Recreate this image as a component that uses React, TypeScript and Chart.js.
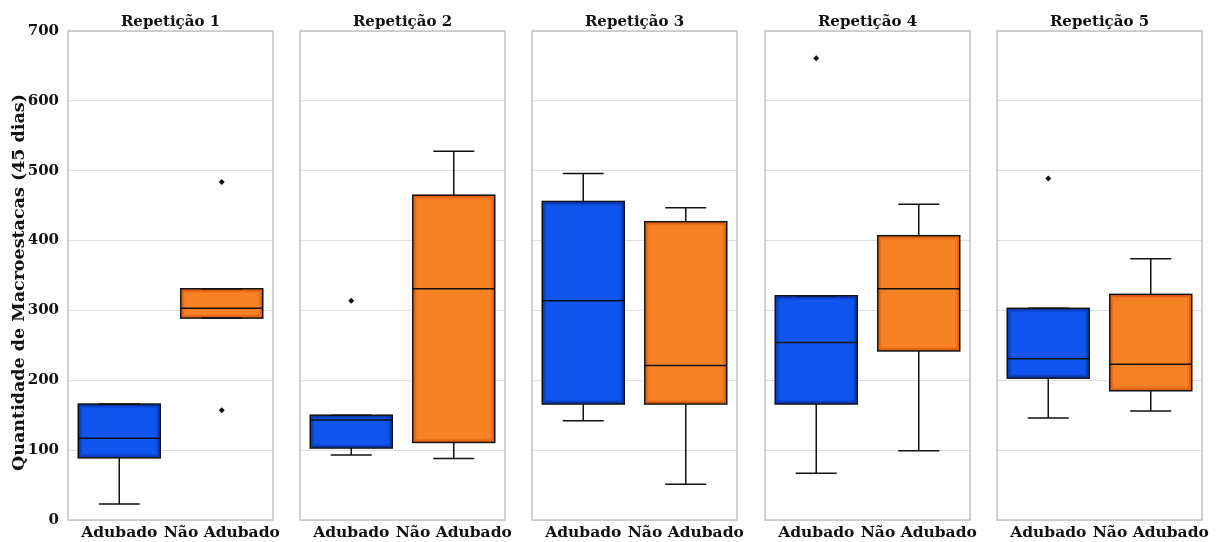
import React, { useEffect, useRef } from "react";
import { Chart, registerables } from "chart.js";

Chart.register(...registerables);

const repetitions = ["Repetição 1", "Repetição 2", "Repetição 3", "Repetição 4", "Repetição 5"];
const categories = ["Adubado", "Não Adubado"];
const q1Values = [[89, 289], [103, 111], [166, 166], [166, 242], [203, 185]];
const q3Values = [[166, 331], [150, 465], [456, 427], [321, 407], [303, 323]];
const medianValues = [[117, 303], [143, 331], [314, 221], [254, 331], [231, 223]];
const whiskerLowValues = [[23, 289], [93, 88], [142, 51], [67, 99], [146, 156]];
const whiskerHighValues = [[166, 331], [150, 528], [496, 447], [321, 452], [303, 374]];
const outlierValues = [[[], [484, 157]], [[314], []], [[], []], [[661], []], [[489], []]];
const yTicks = [0, 100, 200, 300, 400, 500, 600, 700];
const yLabel = "Quantidade de Macroestacas (45 dias)";

const FILL = ["#0f55ee", "#f78125"];
const RIM = ["rgb(5,25,110)", "rgb(200,55,0)"];
const FONT = "'DejaVu Serif', serif";

const PANEL_LEFTS = [68, 300, 532, 765, 997];
const PANEL_W = 205;
const TOP = 31;
const BOTTOM = 520;
const H = 542;
const SIDE = 14;

function Panel({ idx }: { idx: number }) {
  const ref = useRef<HTMLCanvasElement | null>(null);
  const chartLeft = PANEL_LEFTS[idx];
  const canvasLeft = idx === 0 ? 0 : chartLeft - SIDE;
  const yAxisW = chartLeft - canvasLeft;
  const canvasW = Math.min(chartLeft + PANEL_W + SIDE, 1217) - canvasLeft;
  const padRight = canvasLeft + canvasW - (chartLeft + PANEL_W);

  useEffect(() => {
    const canvas = ref.current!;
    const boxPlugin = {
      id: "boxExtras",
      beforeDatasetsDraw(chart: any) {
        const { ctx, chartArea } = chart;
        ctx.save();
        ctx.strokeStyle = "#c4c4c4";
        ctx.lineWidth = 1.5;
        ctx.strokeRect(chartArea.left, chartArea.top, chartArea.right - chartArea.left, chartArea.bottom - chartArea.top);
        ctx.restore();
      },
      afterDatasetsDraw(chart: any) {
        const { ctx } = chart;
        const xs = chart.scales.x;
        const ys = chart.scales.y;
        const meta = chart.getDatasetMeta(0);
        ctx.save();
        categories.forEach((_, c) => {
          const bar = meta.data[c];
          const cx = xs.getPixelForValue(c);
          const bw = bar.width;
          const yTop = ys.getPixelForValue(q3Values[idx][c]);
          const yBot = ys.getPixelForValue(q1Values[idx][c]);
          // soft inner rim shading
          ctx.strokeStyle = RIM[c];
          [0.55, 0.3, 0.12].forEach((a, k) => {
            const inset = 1 + k;
            ctx.globalAlpha = a;
            ctx.lineWidth = 1;
            ctx.strokeRect(cx - bw / 2 + inset + 0.5, yTop + inset + 0.5, bw - 2 * inset - 1, yBot - yTop - 2 * inset - 1);
          });
          ctx.globalAlpha = 1;
          ctx.strokeStyle = "#111";
          ctx.lineWidth = 1.5;
          ctx.strokeRect(cx - bw / 2, yTop, bw, yBot - yTop);
          const capHalf = bw / 4;
          const lo = ys.getPixelForValue(whiskerLowValues[idx][c]);
          const hi = ys.getPixelForValue(whiskerHighValues[idx][c]);
          ctx.beginPath();
          ctx.moveTo(cx, yBot);
          ctx.lineTo(cx, lo);
          ctx.moveTo(cx - capHalf, lo);
          ctx.lineTo(cx + capHalf, lo);
          ctx.moveTo(cx, yTop);
          ctx.lineTo(cx, hi);
          ctx.moveTo(cx - capHalf, hi);
          ctx.lineTo(cx + capHalf, hi);
          ctx.stroke();
          const m = ys.getPixelForValue(medianValues[idx][c]);
          ctx.beginPath();
          ctx.moveTo(cx - bw / 2, m);
          ctx.lineTo(cx + bw / 2, m);
          ctx.stroke();
        });
        ctx.restore();
      },
      afterDraw(chart: any) {
        const { ctx, chartArea } = chart;
        ctx.save();
        ctx.fillStyle = "#111";
        ctx.font = `bold 15px ${FONT}`;
        ctx.textAlign = "center";
        ctx.textBaseline = "alphabetic";
        ctx.fillText(repetitions[idx], (chartArea.left + chartArea.right) / 2, 26);
        if (idx === 0) {
          ctx.translate(19, (TOP + BOTTOM) / 2 + 7);
          ctx.rotate(-Math.PI / 2);
          ctx.font = `bold 17.5px ${FONT}`;
          ctx.textBaseline = "middle";
          ctx.fillText(yLabel, 0, 0);
        }
        ctx.restore();
      },
    };

    const outlierPoints: { x: string; y: number }[] = [];
    outlierValues[idx].forEach((vals, c) => vals.forEach((v) => outlierPoints.push({ x: categories[c], y: v })));

    const chart = new Chart(canvas, {
      type: "bar",
      data: {
        labels: categories,
        datasets: [
          {
            type: "bar",
            data: categories.map((_, c) => [q1Values[idx][c], q3Values[idx][c]]) as any,
            backgroundColor: FILL,
            borderWidth: 0,
            barPercentage: 0.8,
            categoryPercentage: 1,
          },
          {
            type: "line",
            data: outlierPoints as any,
            showLine: false,
            pointStyle: "rectRot",
            pointRadius: 3,
            pointBackgroundColor: "#111",
            pointBorderColor: "#111",
            pointBorderWidth: 0,
          } as any,
        ],
      },
      options: {
        responsive: false,
        animation: false,
        devicePixelRatio: 1,
        layout: { padding: { top: TOP, right: padRight, left: 0, bottom: 0 } },
        plugins: { legend: { display: false }, tooltip: { enabled: false }, title: { display: false } },
        scales: {
          x: {
            offset: true,
            grid: { display: false, drawTicks: false },
            border: { display: false },
            ticks: {
              color: "#111",
              font: { family: FONT, weight: "bold", size: 15.5 },
              padding: 4,
              maxRotation: 0,
              autoSkip: false,
            },
            afterFit(s: any) {
              s.height = H - BOTTOM;
              s.paddingLeft = 0;
              s.paddingRight = 0;
            },
          },
          y: {
            min: 0,
            max: 700,
            afterBuildTicks(s: any) {
              s.ticks = yTicks.map((v) => ({ value: v }));
            },
            grid: { color: "#dedede", lineWidth: 1, drawTicks: false },
            border: { display: false },
            ticks: {
              display: idx === 0,
              color: "#111",
              padding: 9,
              font: { family: FONT, weight: "bold", size: 15 },
            },
            afterFit(s: any) {
              s.width = yAxisW;
              s.paddingTop = 0;
              s.paddingBottom = 0;
            },
          },
        },
      } as any,
      plugins: [boxPlugin],
    });
    return () => chart.destroy();
  }, [idx]);

  return (
    <canvas
      ref={ref}
      width={canvasW}
      height={H}
      style={{ position: "absolute", left: canvasLeft, top: 0, width: canvasW, height: H }}
    />
  );
}

export default function App() {
  return (
    <div style={{ position: "fixed", left: 0, top: 0, width: 1217, height: 542, background: "#fff" }}>
      {repetitions.map((_, i) => (
        <Panel key={i} idx={i} />
      ))}
    </div>
  );
}
